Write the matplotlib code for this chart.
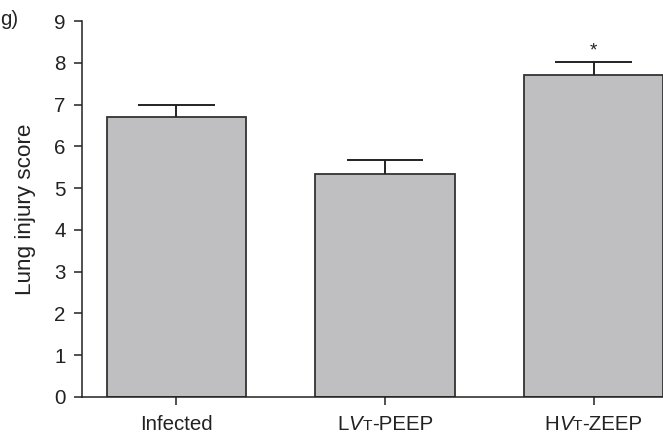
import matplotlib
matplotlib.use("Agg")
import matplotlib.pyplot as plt
from matplotlib.offsetbox import TextArea, HPacker, AnnotationBbox

# group labels, split into pieces: (text, style, relative size)
label_parts = [
    [("Infected", "normal", 1.0)],
    [("L", "normal", 1.0), ("V", "italic", 1.0), ("T", "normal", 0.75), ("-PEEP", "normal", 1.0)],
    [("H", "normal", 1.0), ("V", "italic", 1.0), ("T", "normal", 0.75), ("-ZEEP", "normal", 1.0)],
]
means = [6.71, 5.33, 7.71]
sem = [0.29, 0.34, 0.30]
significant = [False, False, True]
yticks = list(range(0, 10))

plt.rcParams["font.family"] = ["Liberation Sans", "DejaVu Sans"]
FS = 14.8
INK = "#222222"

fig = plt.figure(figsize=(6.63, 4.38), dpi=100)
ax = fig.add_axes([0.124, 0.094, 0.876, 0.858])

x = list(range(len(means)))
width = 0.667
ax.bar(x, means, width=width, color="#bfbfc1", edgecolor="#333333", linewidth=1.3, zorder=2)

cap = width * 0.55
tops = [m + s for m, s in zip(means, sem)]
ax.vlines(x, means, tops, colors=INK, linewidth=1.4, zorder=3)
ax.hlines(tops, [xi - cap / 2 for xi in x], [xi + cap / 2 for xi in x], colors=INK, linewidth=1.4, zorder=3)
for xi, t, sig in zip(x, tops, significant):
    if sig:
        ax.text(xi, t + 0.08, "*", ha="center", va="bottom", fontsize=FS - 1, color=INK)

ax.set_xlim(-0.452, 2.333)
ax.set_ylim(0, 9)
ax.set_yticks(yticks)
ax.set_yticklabels([str(v) for v in yticks], fontsize=FS, color=INK)
ax.set_xticks(x)
ax.set_xticklabels([""] * len(x))
ax.tick_params(axis="both", direction="out", length=6, width=1.1, color=INK, pad=6)

for side in ["top", "right"]:
    ax.spines[side].set_visible(False)
for side in ["left", "bottom"]:
    ax.spines[side].set_linewidth(1.1)
    ax.spines[side].set_color(INK)

# x labels with italic V and small T
for xi, parts in zip(x, label_parts):
    areas = [
        TextArea(t, textprops=dict(fontsize=FS * s, fontstyle=st, color=INK))
        for t, st, s in parts
    ]
    box = HPacker(children=areas, align="baseline", pad=0, sep=0)
    ab = AnnotationBbox(box, (xi, 0), xycoords=("data", "axes fraction"),
                        xybox=(0, -20), boxcoords="offset points",
                        box_alignment=(0.5, 0.5), frameon=False)
    ax.add_artist(ab)

ax.set_ylabel("Lung injury score", fontsize=16.2, color=INK, labelpad=13)
fig.text(0.0, 0.955, "g)", fontsize=FS, color=INK, ha="left", va="center")

fig.savefig("out.png", dpi=100)
